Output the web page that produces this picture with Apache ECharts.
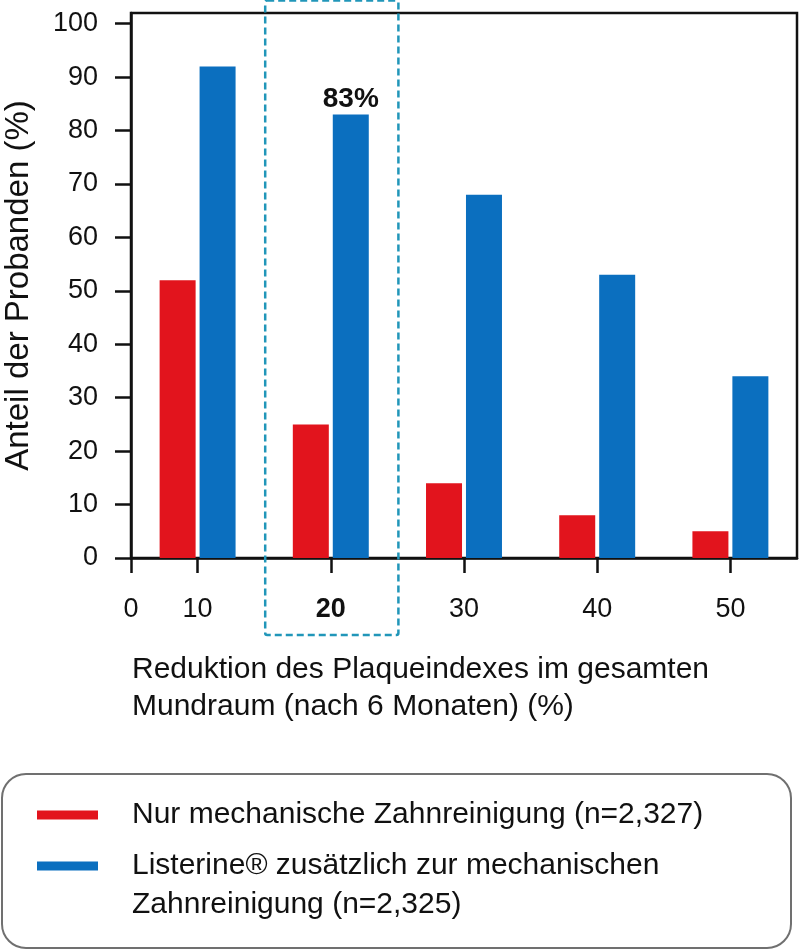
<!DOCTYPE html>
<html><head><meta charset="utf-8">
<script src="https://cdn.jsdelivr.net/npm/echarts@6/dist/echarts.min.js"></script>
<style>html,body{margin:0;padding:0;background:#fff}#c{width:800px;height:952px}</style>
</head><body><div id="c"></div>
<script>
const categories = ['10', '20', '30', '40', '50'];
const mechanicalOnly = [52, 25, 14, 8, 5];
const listerineAdded = [92, 83, 68, 53, 34];
const yTickValues = [0, 10, 20, 30, 40, 50, 60, 70, 80, 90, 100];
const originTick = [0];
const highlighted = '20';
const seriesNames = ['Nur mechanische Zahnreinigung (n=2,327)', 'Listerine® zusätzlich zur mechanischen Zahnreinigung (n=2,325)'];
const legendLabels = ['Nur mechanische Zahnreinigung (n=2,327)', 'Listerine® zusätzlich zur mechanischen\nZahnreinigung (n=2,325)'];
const xTitle = 'Reduktion des Plaqueindexes im gesamten\nMundraum (nach 6 Monaten) (%)';
const yTitle = 'Anteil der Probanden (%)';

const FONT = '"Liberation Sans", Arial, Helvetica, sans-serif';
const INK = '#111';
const chart = echarts.init(document.getElementById('c'), null, {renderer: 'canvas'});

const option = {
  animation: false,
  backgroundColor: '#fff',
  textStyle: {fontFamily: FONT, color: INK},
  title: {
    text: xTitle, left: 132, top: 651, padding: 0,
    textStyle: {fontFamily: FONT, fontSize: 30, lineHeight: 37, fontWeight: 'normal', color: INK}
  },
  grid: {left: 131, right: 3, top: 13, bottom: 394, show: true, borderColor: INK, borderWidth: 2.5,
         containLabel: false, outerBoundsMode: 'none'},
  xAxis: [{
    type: 'category', data: categories, position: 'bottom',
    axisLine: {lineStyle: {color: INK, width: 2.5}},
    axisTick: {show: true, alignWithLabel: true, interval: 0, length: 15, lineStyle: {color: INK, width: 2.5}},
    axisLabel: {
      margin: 38, fontSize: 27, color: INK, fontFamily: FONT, interval: 0,
      formatter: v => v === highlighted ? '{b|' + v + '}' : v,
      rich: {b: {fontWeight: 'bold', fontSize: 27, fontFamily: FONT, color: INK}}
    },
    splitLine: {show: false}
  }, {
    type: 'value', min: 0, max: categories.length, position: 'bottom',
    axisLine: {show: false},
    axisTick: {show: true, customValues: originTick, length: 15, lineStyle: {color: INK, width: 2.5}},
    axisLabel: {customValues: originTick, margin: 38, fontSize: 27, color: INK, fontFamily: FONT},
    splitLine: {show: false}
  }],
  yAxis: {
    type: 'value', min: 0, max: 102,
    axisLine: {show: true, lineStyle: {color: INK, width: 2.5}},
    axisTick: {show: true, inside: false, length: 16, customValues: yTickValues, lineStyle: {color: INK, width: 2.5}},
    axisLabel: {customValues: yTickValues, margin: 33, fontSize: 27, color: INK, fontFamily: FONT},
    splitLine: {show: false},
    name: yTitle, nameLocation: 'middle', nameGap: 96,
    nameTextStyle: {fontSize: 33, color: INK, fontFamily: FONT}
  },
  legend: {
    orient: 'vertical', left: 37, top: 795.5, height: 400, padding: 0,
    itemWidth: 61, itemHeight: 9, itemGap: -27, icon: 'rect', selectedMode: false,
    textStyle: {fontSize: 30, lineHeight: 39, color: INK, fontFamily: FONT, padding: [0, 0, 0, 29]},
    formatter: name => {
      const t = legendLabels[seriesNames.indexOf(name)];
      return t.indexOf('\n') >= 0 ? '\n' + t : t;
    },
    data: seriesNames
  },
  series: [{
    name: seriesNames[0], type: 'bar', xAxisIndex: 0, barWidth: 36, barGap: '11%',
    itemStyle: {color: '#e2141d'},
    data: mechanicalOnly
  }, {
    name: seriesNames[1], type: 'bar', xAxisIndex: 0, barWidth: 36, barGap: '11%',
    itemStyle: {color: '#0b6fbf'},
    label: {show: false, position: 'top', distance: 1, formatter: '{c}%', fontWeight: 'bold', fontSize: 28, color: INK, fontFamily: FONT},
    data: listerineAdded.map((v, i) => categories[i] === highlighted ? {value: v, label: {show: true}} : v)
  }]
};
chart.setOption(option);

const idx = categories.indexOf(highlighted);
const cx = chart.convertToPixel({xAxisIndex: 0}, categories[idx]);
const nx = chart.convertToPixel({xAxisIndex: 0}, categories[idx + 1]);
const bw = nx - cx;
chart.setOption({
  graphic: [{
    type: 'rect', id: 'legendBox', z: 0, silent: true,
    shape: {x: 2, y: 774, width: 789, height: 174, r: 24},
    style: {fill: 'none', stroke: '#707070', lineWidth: 2}
  }, {
    type: 'rect', id: 'highlightBox', z: 10, silent: true,
    shape: {x: cx - bw / 2 + 1, y: 0.5, width: bw, height: 634.5, r: 2},
    style: {fill: 'none', stroke: '#2196b9', lineWidth: 2.5, lineDash: [7, 4]}
  }]
});
</script></body></html>
